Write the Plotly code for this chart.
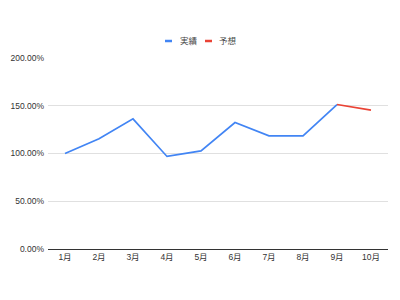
import plotly.graph_objects as go

months = ["1月", "2月", "3月", "4月", "5月", "6月", "7月", "8月", "9月", "10月"]
actual = [1.00, 1.154, 1.363, 0.969, 1.028, 1.324, 1.185, 1.185, 1.513, None]
forecast = [None, None, None, None, None, None, None, None, 1.513, 1.454]
y_ticks = [0, 0.5, 1.0, 1.5, 2.0]
series_names = ["実績", "予想"]
series_colors = ["#4285F4", "#EA4335"]

font_family = "Arial, Liberation Sans, Noto Sans CJK JP"

fig = go.Figure()
for name, vals, col in zip(series_names, [actual, forecast], series_colors):
    fig.add_trace(go.Scatter(x=months, y=vals, name=name, mode="lines",
                             line=dict(color=col, width=1.7), showlegend=False))

# custom compact legend (short dash + label), centred above the plot
W = 400 - 48 - 12
H = 300 - 58 - 51
def px_x(p):
    return (p - 48) / W
def px_y(p):
    return (300 - 51 - p) / H

legend_y = 41
dash_x = [165, 205]
text_x = [178, 217]
for name, col, dx, tx in zip(series_names, series_colors, dash_x, text_x):
    fig.add_shape(type="line", xref="paper", yref="paper",
                  x0=px_x(dx), x1=px_x(dx + 7), y0=px_y(legend_y), y1=px_y(legend_y),
                  line=dict(color=col, width=2.5))
    fig.add_annotation(text=name, xref="paper", yref="paper", x=px_x(tx), y=px_y(legend_y),
                       xanchor="left", yanchor="middle", showarrow=False,
                       font=dict(size=8.5, color="#444"))

fig.update_layout(
    width=400, height=300,
    margin=dict(l=48, r=12, t=58, b=51),
    paper_bgcolor="white", plot_bgcolor="white",
    font=dict(family=font_family, size=8.5, color="#333"),
    showlegend=False,
    xaxis=dict(type="category", range=[-0.5, 9.5], showgrid=False, showline=True,
               linecolor="#333", linewidth=1, ticks="", automargin=False,
               tickfont=dict(size=8.5, color="#333")),
    yaxis=dict(range=[0, 2.0], tickvals=y_ticks, tickformat=".2%", showgrid=True,
               gridcolor="#e0e0e0", gridwidth=1, zeroline=False, showline=False,
               ticks="", ticklabelstandoff=3, automargin=False,
               tickfont=dict(size=8.5, color="#333")),
)

fig.write_html("out.html")
